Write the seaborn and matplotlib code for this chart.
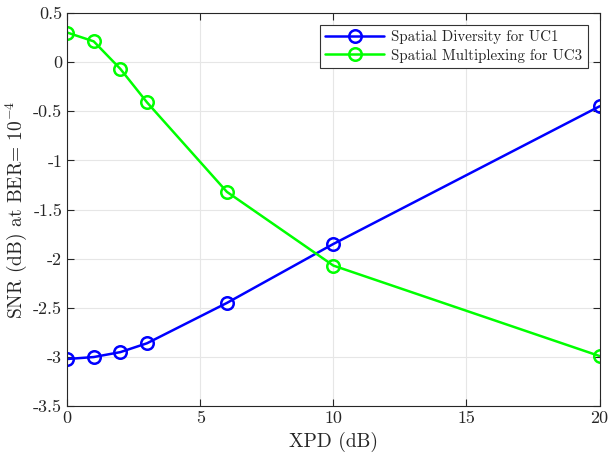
import numpy as np
import pandas as pd
import seaborn as sns
import matplotlib.pyplot as plt

# datos
xpd = [0, 1, 2, 3, 6, 10, 20]
snr_uc1 = [-3.02, -3.00, -2.95, -2.86, -2.45, -1.85, -0.45]
snr_uc3 = [0.30, 0.21, -0.07, -0.41, -1.32, -2.07, -2.99]
series = ["Spatial Diversity for UC1", "Spatial Multiplexing for UC3"]
colores = ["#0000ff", "#00ff00"]

df = pd.DataFrame({
    "XPD": xpd * 2,
    "SNR": snr_uc1 + snr_uc3,
    "serie": [series[0]] * len(xpd) + [series[1]] * len(xpd),
})

sns.set_style("ticks")
plt.rcParams["font.family"] = ["cmr10", "DejaVu Serif"]
plt.rcParams["mathtext.fontset"] = "cm"
plt.rcParams["axes.unicode_minus"] = False
plt.rcParams["axes.formatter.use_mathtext"] = True

fig, ax = plt.subplots(figsize=(6.1, 4.59), dpi=100)
fig.subplots_adjust(left=0.11, right=0.983, top=0.972, bottom=0.115)

for nombre, col in zip(series, colores):
    sub = df[df["serie"] == nombre]
    sns.lineplot(data=sub, x="XPD", y="SNR", ax=ax, color=col, lw=1.8,
                 marker="o", markersize=9, markerfacecolor="none",
                 markeredgecolor=col, markeredgewidth=1.8, label=nombre)

ax.set_xlim(0, 20)
ax.set_ylim(-3.5, 0.5)
ax.set_xticks([0, 5, 10, 15, 20])
ax.set_yticks(np.arange(-3.5, 0.51, 0.5))
ax.set_yticklabels(["-3.5", "-3", "-2.5", "-2", "-1.5", "-1", "-0.5", "0", "0.5"])
ax.set_xticklabels(["0", "5", "10", "15", "20"])
ax.grid(True, color="#e6e6e6", lw=0.8)
ax.tick_params(direction="in", top=True, right=True, length=5, labelsize=13, width=0.8)
for s in ax.spines.values():
    s.set_linewidth(0.8)
ax.set_xlabel("XPD (dB)", fontsize=14)
ax.set_ylabel(r"SNR (dB) at BER= $10^{-4}$", fontsize=14)
ax.yaxis.set_label_coords(-0.072, 0.5)

leg = ax.legend(loc="upper right", fontsize=10.8, fancybox=False, framealpha=1,
                edgecolor="#333333", borderpad=0.35, handlelength=3.9,
                handletextpad=0.5, labelspacing=0.3, borderaxespad=0.8)
leg.get_frame().set_linewidth(0.8)

fig.savefig("out.png", dpi=100)
